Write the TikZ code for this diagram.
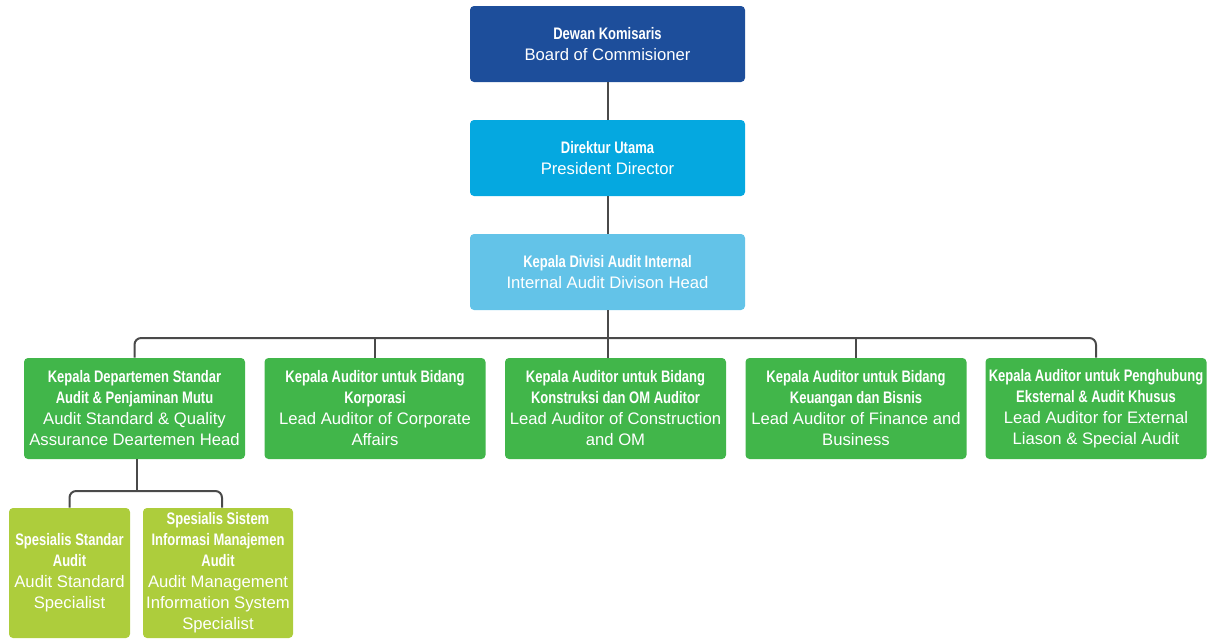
\documentclass[tikz,border=0pt]{standalone}
\usepackage{fontspec}
\setmainfont{Liberation Sans}
\newfontfamily\condfont[FakeStretch=0.78]{Liberation Sans}

\definecolor{boardblue}{HTML}{1D4E9B}
\definecolor{dirblue}{HTML}{05A8E0}
\definecolor{divblue}{HTML}{63C3E8}
\definecolor{leadgreen}{HTML}{41B64A}
\definecolor{specgreen}{HTML}{ADCD3C}
\definecolor{linegray}{HTML}{4A4A4A}

\newcommand{\hd}[1]{{\condfont\bfseries #1}}

\begin{document}
\begin{tikzpicture}[
    x=0.75pt, y=-0.75pt,
    box/.style={
        rounded corners=3pt, text=white, align=center, inner sep=0pt,
        font=\fontsize{12.5}{15.75}\selectfont},
    topbox/.style={box, minimum width=206.25pt, minimum height=57pt},
    lead/.style={box, fill=leadgreen, minimum width=165.75pt, minimum height=75.75pt},
    spec/.style={box, fill=specgreen, minimum height=97.5pt},
    link/.style={draw=linegray, line width=1.5pt},
]
\useasboundingbox (0,0) rectangle (1211,639);

% ============================ top of the chain ==========================
\node[topbox, fill=boardblue] (board) at (607.5,44)
  {\hd{Dewan Komisaris}\\Board of Commisioner};
\node[topbox, fill=dirblue] (presdir) at (607.5,158)
  {\hd{Direktur Utama}\\President Director};
\node[topbox, fill=divblue] (divhead) at (607.5,272)
  {\hd{Kepala Divisi Audit Internal}\\Internal Audit Divison Head};

% ============================ lead auditors =============================
\node[lead] (stdhead) at (134.5,408.5)
  {\hd{Kepala Departemen Standar}\\\hd{Audit \& Penjaminan Mutu}\\Audit Standard \& Quality\\Assurance Deartemen Head};
\node[lead] (corp) at (375,408.5)
  {\hd{Kepala Auditor untuk Bidang}\\\hd{Korporasi}\\Lead Auditor of Corporate\\Affairs};
\node[lead] (constr) at (615.5,408.5)
  {\hd{Kepala Auditor untuk Bidang}\\\hd{Konstruksi dan OM Auditor}\\Lead Auditor of Construction\\and OM};
\node[lead] (fin) at (856,408.5)
  {\hd{Kepala Auditor untuk Bidang}\\\hd{Keuangan dan Bisnis}\\Lead Auditor of Finance and\\Business};
\node[lead] (liaison) at (1096,408.5)
  {\hd{Kepala Auditor untuk Penghubung}\\\hd{Eksternal \& Audit Khusus}\\Lead Auditor for External\\Liason \& Special Audit};

% ============================ specialists ===============================
\node[spec, minimum width=90.75pt] (stdspec) at (69.5,573)
  {\hd{Spesialis Standar}\\\hd{Audit}\\Audit Standard\\Specialist};
\node[spec, minimum width=112.5pt] (misspec) at (218,573)
  {\hd{Spesialis Sistem}\\\hd{Informasi Manajemen}\\\hd{Audit}\\Audit Management\\Information System\\Specialist};

% ============================ connectors ================================
\coordinate (bus) at (607,338);
\coordinate (subbus) at (137,491);

\draw[link] (board) -- (presdir);
\draw[link] (presdir) -- (divhead);
\draw[link] (divhead.south) -- (divhead.south |- constr.north);
\draw[link, rounded corners=5pt] (stdhead.north) |- (bus) -| (liaison.north);
\draw[link] (corp.north) -- (corp.north |- bus);
\draw[link] (fin.north) -- (fin.north |- bus);

\draw[link] (stdhead.south -| subbus) -- (subbus);
\draw[link, rounded corners=5pt] (stdspec.north) |- (subbus) -| ([xshift=3pt]misspec.north);

\end{tikzpicture}
\end{document}
